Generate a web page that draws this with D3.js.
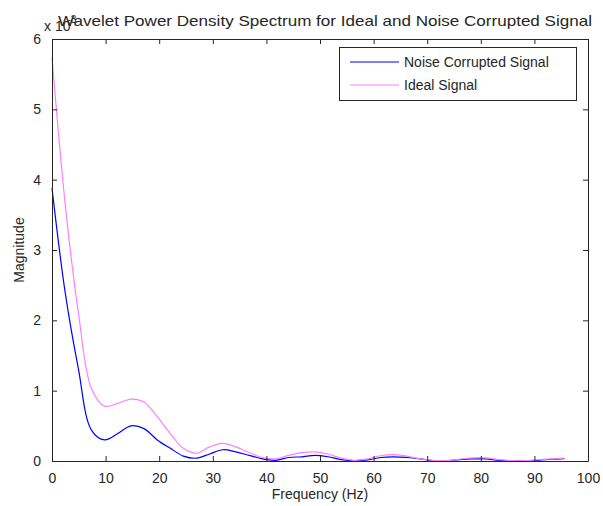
<!DOCTYPE html>
<html>
<head>
<meta charset="utf-8">
<script src="https://cdn.jsdelivr.net/npm/d3@7"></script>
<style>
  body { margin: 0; background: #fff; }
  text { font-family: Arial, "Liberation Sans", sans-serif; fill: #262626; }
</style>
</head>
<body>
<svg id="chart"></svg>
<script>
// frequency samples (Hz)
const freq = [0, 2.45, 4.9, 7.36, 9.81, 12.27, 14.72, 17.17, 19.63, 22.08,
    24.5, 26.98, 29.4, 31.9, 34.3, 36.8, 39.25, 41.7, 44.15, 46.6,
    49.06, 51.5, 53.97, 56.4, 58.9, 61.3, 63.8, 66.2, 68.7, 71.1,
    73.6, 76.0, 78.5, 80.9, 83.4, 85.8, 88.3, 90.7, 93.2, 95.6];

// magnitudes (x 10^-3)
const noisy = [3.88, 2.4, 1.32, 0.44, 0.30, 0.39, 0.50, 0.46, 0.30, 0.18,
    0.07, 0.04, 0.10, 0.16, 0.13, 0.08, 0.03, 0.01, 0.05, 0.06,
    0.08, 0.06, 0.02, 0.005, 0.015, 0.05, 0.06, 0.05, 0.03, 0.005,
    0.003, 0.02, 0.03, 0.03, 0.01, 0.003, 0.002, 0.01, 0.025, 0.035];

const ideal = [5.74, 3.66, 2.12, 1.03, 0.78, 0.82, 0.88, 0.84, 0.63, 0.39,
    0.18, 0.11, 0.20, 0.25, 0.20, 0.12, 0.05, 0.03, 0.08, 0.12,
    0.13, 0.10, 0.04, 0.01, 0.03, 0.075, 0.09, 0.07, 0.03, 0.01,
    0.005, 0.025, 0.045, 0.045, 0.02, 0.005, 0.005, 0.02, 0.03, 0.04];

const xTicks = [0, 10, 20, 30, 40, 50, 60, 70, 80, 90, 100];
const yTicks = [0, 1, 2, 3, 4, 5, 6];

const seriesNames = ["Noise Corrupted Signal", "Ideal Signal"];
const seriesColors = ["#0000ff", "#ff80ff"];

const width = 603;
const height = 506;
const margin = { top: 39, right: 15, bottom: 45, left: 52 };

const svg = d3.select("#chart").attr("width", width).attr("height", height);

const x = d3.scaleLinear().domain([0, 100]).range([margin.left, width - margin.right]);
const y = d3.scaleLinear().domain([0, 6]).range([height - margin.bottom, margin.top]);

const series = [noisy, ideal];

const line = d3.line()
    .x(function (d, i) { return x(freq[i]); })
    .y(function (d) { return y(d); })
    .curve(d3.curveCatmullRom.alpha(0.5));

// curves
const plot = svg.append("g").attr("class", "lines");
series.forEach(function (s, i) {
    plot.append("path")
        .datum(s)
        .attr("fill", "none")
        .attr("stroke", seriesColors[i])
        .attr("stroke-width", 1.2)
        .attr("d", line);
});

// axes, ticks inward, mirrored on top / right
const tickLen = 5;
const axisColor = "#262626";

const axBottom = svg.append("g")
    .attr("transform", "translate(0," + y(0) + ")")
    .call(d3.axisBottom(x).tickValues(xTicks).tickSizeInner(-tickLen).tickSizeOuter(0).tickPadding(12));
const axTop = svg.append("g")
    .attr("transform", "translate(0," + y(6) + ")")
    .call(d3.axisTop(x).tickValues(xTicks).tickSizeInner(-tickLen).tickSizeOuter(0).tickFormat(""));
const axLeft = svg.append("g")
    .attr("transform", "translate(" + x(0) + ",0)")
    .call(d3.axisLeft(y).tickValues(yTicks).tickFormat(d3.format("d"))
        .tickSizeInner(-tickLen).tickSizeOuter(0).tickPadding(11));
const axRight = svg.append("g")
    .attr("transform", "translate(" + x(100) + ",0)")
    .call(d3.axisRight(y).tickValues(yTicks).tickSizeInner(-tickLen).tickSizeOuter(0).tickFormat(""));

[axBottom, axTop, axLeft, axRight].forEach(function (a) {
    a.selectAll("path").attr("stroke", axisColor);
    a.selectAll("line").attr("stroke", axisColor);
    a.selectAll("text").attr("font-size", 14).attr("fill", axisColor)
        .style("font-family", "Arial, 'Liberation Sans', sans-serif");
});

// title
svg.append("text")
    .attr("x", 325)
    .attr("y", 26)
    .attr("text-anchor", "middle")
    .attr("font-size", 15)
    .attr("textLength", 534)
    .attr("lengthAdjust", "spacingAndGlyphs")
    .text("Wavelet Power Density Spectrum for Ideal and Noise Corrupted Signal");

// exponent label
const expo = svg.append("text")
    .attr("x", 44)
    .attr("y", 31)
    .attr("font-size", 14);
expo.append("tspan").text("x 10");
expo.append("tspan").attr("font-size", 10).attr("dy", -8).attr("dx", -3).text("-3");

// axis labels
svg.append("text")
    .attr("x", (x(0) + x(100)) / 2)
    .attr("y", 499)
    .attr("text-anchor", "middle")
    .attr("font-size", 14)
    .text("Frequency (Hz)");

svg.append("text")
    .attr("transform", "translate(24," + (y(0) + y(6)) / 2 + ") rotate(-90)")
    .attr("text-anchor", "middle")
    .attr("font-size", 14)
    .text("Magnitude");

// legend
const legend = svg.append("g").attr("class", "legend");
legend.append("rect")
    .attr("x", 339.5)
    .attr("y", 47.5)
    .attr("width", 237)
    .attr("height", 53)
    .attr("fill", "#fff")
    .attr("stroke", axisColor);

seriesNames.forEach(function (name, i) {
    const ly = 62 + i * 23;
    legend.append("line")
        .attr("x1", 350).attr("x2", 399)
        .attr("y1", ly).attr("y2", ly)
        .attr("stroke", seriesColors[i])
        .attr("stroke-width", 1.2);
    legend.append("text")
        .attr("x", 404)
        .attr("y", ly + 5)
        .attr("font-size", 14)
        .text(name);
});
</script>
</body>
</html>
